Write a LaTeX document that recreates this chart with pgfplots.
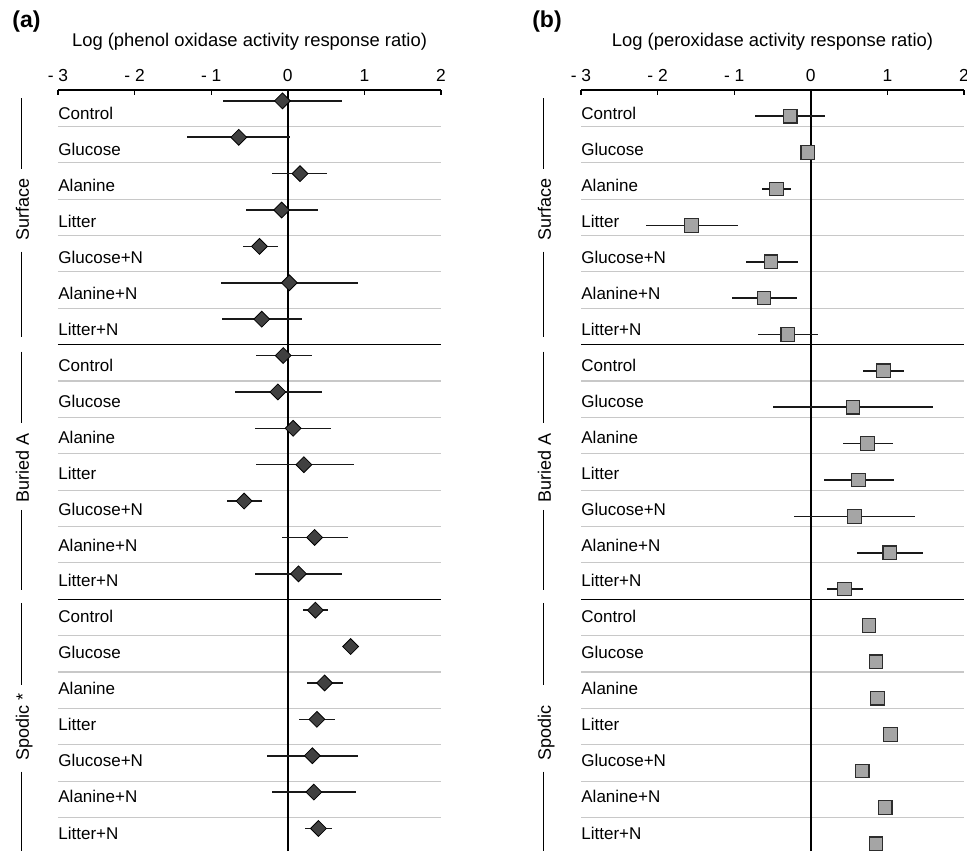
\documentclass[border=0pt]{standalone}
\usepackage{fontspec}
\setmainfont{Liberation Sans}
\usepackage{pgfplots}
\usepackage{pgfplotstable}
\pgfplotsset{compat=1.18}

\definecolor{sepgray}{RGB}{200,200,200}
\definecolor{diafill}{RGB}{64,64,64}
\definecolor{sqfill}{RGB}{165,165,165}
\definecolor{sqedge}{RGB}{45,45,45}

\pgfplotstableread{
y m lo hi
20.7 -0.07 -0.85 0.71
19.7 -0.64 -1.31 0.03
18.7 0.16 -0.21 0.51
17.7 -0.08 -0.54 0.39
16.7 -0.37 -0.59 -0.13
15.7 0.02 -0.87 0.91
14.7 -0.34 -0.86 0.18
13.7 -0.06 -0.41 0.31
12.7 -0.13 -0.69 0.44
11.7 0.07 -0.43 0.57
10.7 0.21 -0.42 0.86
9.7 -0.57 -0.79 -0.34
8.7 0.35 -0.08 0.79
7.7 0.14 -0.43 0.71
6.7 0.36 0.20 0.52
5.7 0.82 0.82 0.82
4.7 0.48 0.25 0.72
3.7 0.38 0.14 0.62
2.7 0.32 -0.27 0.91
1.7 0.34 -0.20 0.89
0.7 0.40 0.22 0.58
}\phenol

\pgfplotstableread{
y m lo hi
20.28 -0.27 -0.73 0.19
19.28 -0.04 -0.04 -0.04
18.28 -0.45 -0.64 -0.26
17.28 -1.56 -2.15 -0.95
16.28 -0.52 -0.85 -0.17
15.28 -0.61 -1.03 -0.18
14.28 -0.30 -0.69 0.10
13.28 0.95 0.68 1.22
12.28 0.55 -0.50 1.59
11.28 0.74 0.42 1.07
10.28 0.62 0.17 1.08
9.28 0.57 -0.22 1.36
8.28 1.03 0.60 1.46
7.28 0.44 0.21 0.68
6.28 0.76 0.76 0.76
5.28 0.85 0.85 0.85
4.28 0.87 0.87 0.87
3.28 1.04 1.04 1.04
2.28 0.67 0.67 0.67
1.28 0.97 0.97 0.97
0.28 0.85 0.85 0.85
}\perox

\tikzset{grp/.style={font=\fontsize{9}{10}\selectfont, rotate=90, text height=0.73em, text depth=0pt, inner sep=0pt}}

\pgfplotsset{
  forestax/.style={
    scale only axis, width=191.5pt, height=380.5pt,
    xmin=-3, xmax=2, ymin=0.08, ymax=21,
    enlargelimits=false,
    clip=false,
    axis x line*=top,
    axis y line*=left,
    y axis line style={draw=none},
    x axis line style={line width=0.65pt, black},
    xtick={-3,-2,-1,0,1,2},
    xticklabels={{- 3},{- 2},{- 1},0,1,2},
    xtick align=inside,
    major tick length=2.5pt,
    xtick style={line width=0.65pt, black},
    xticklabel style={font=\fontsize{8.7}{10}\selectfont, anchor=base, inner sep=0pt, yshift=4.2pt},
    ytick={0.41,1.40,2.39,3.38,4.37,5.36,6.35,7.34,8.32,9.31,10.30,11.29,12.28,13.27,14.26,15.25,16.24,17.23,18.22,19.21,20.20},
    yticklabels={Litter+N,Alanine+N,Glucose+N,Litter,Alanine,Glucose,Control,
                 Litter+N,Alanine+N,Glucose+N,Litter,Alanine,Glucose,Control,
                 Litter+N,Alanine+N,Glucose+N,Litter,Alanine,Glucose,Control},
    ytick style={draw=none},
    ytick align=inside,
    yticklabel style={anchor=base west, inner sep=0pt, font=\fontsize{8.5}{10}\selectfont},
    extra y ticks={1,2,3,4,5,6,8,9,10,11,12,13,15,16,17,18,19,20},
    extra y tick labels={},
    extra y tick style={grid=major, major grid style={sepgray, line width=0.55pt}, tick style={draw=none}},
  },
}

\begin{document}
\begin{tikzpicture}
% ---------------- panel (a) ----------------
\begin{axis}[forestax, at={(0,0)}, anchor=north west]
\addplot[black, line width=0.7pt, forget plot] coordinates {(0,0.08) (0,21)};
\addplot[black, line width=0.7pt, forget plot] coordinates {(-3,14) (2,14)};
\addplot[black, line width=0.7pt, forget plot] coordinates {(-3,7) (2,7)};
\addplot[only marks, mark=square*, mark size=2.8pt,
  mark options={rotate=45, fill=diafill, draw=black, line width=0.4pt},
  error bars/.cd, x dir=both, x explicit, error mark=none,
  error bar style={line width=0.8pt, black!90}]
  table[x=m, y=y, x error plus expr=\thisrow{hi}-\thisrow{m}, x error minus expr=\thisrow{m}-\thisrow{lo}] {\phenol};
% group brackets
\draw[line width=0.7pt] (axis cs:-3.475,20.77) -- (axis cs:-3.475,18.82);
\draw[line width=0.7pt] (axis cs:-3.475,16.56) -- (axis cs:-3.475,14.22);
\draw[line width=0.7pt] (axis cs:-3.475,13.81) -- (axis cs:-3.475,11.84);
\draw[line width=0.7pt] (axis cs:-3.475,9.46) -- (axis cs:-3.475,7.26);
\draw[line width=0.7pt] (axis cs:-3.475,6.90) -- (axis cs:-3.475,4.65);
\draw[line width=0.7pt] (axis cs:-3.475,2.26) -- (axis cs:-3.475,0.08);
\node[grp] at (axis cs:-3.475,17.72) {Surface};
\node[grp] at (axis cs:-3.475,10.60) {Buried A};
\node[grp] at (axis cs:-3.475,3.50) {Spodic *};
\node[anchor=base, font=\fontsize{9.2}{11}\selectfont, inner sep=0pt, yshift=21.7pt] at (rel axis cs:0.5,1) {Log (phenol oxidase activity response ratio)};
\node[font=\bfseries\fontsize{11.5}{13}\selectfont, inner sep=0pt, xshift=-15.75pt, yshift=34pt] at (rel axis cs:0,1) {(a)};
\end{axis}
% ---------------- panel (b) ----------------
\begin{axis}[forestax, at={(261.5pt,0)}, anchor=north west]
\addplot[black, line width=0.7pt, forget plot] coordinates {(0,0.08) (0,21)};
\addplot[black, line width=0.7pt, forget plot] coordinates {(-3,14) (2,14)};
\addplot[black, line width=0.7pt, forget plot] coordinates {(-3,7) (2,7)};
\addplot[only marks, mark=square*, mark size=3.4pt,
  mark options={fill=sqfill, draw=sqedge, line width=0.6pt},
  error bars/.cd, x dir=both, x explicit, error mark=none,
  error bar style={line width=0.8pt, black!90}]
  table[x=m, y=y, x error plus expr=\thisrow{hi}-\thisrow{m}, x error minus expr=\thisrow{m}-\thisrow{lo}] {\perox};
\draw[line width=0.7pt] (axis cs:-3.49,20.77) -- (axis cs:-3.49,18.82);
\draw[line width=0.7pt] (axis cs:-3.49,16.56) -- (axis cs:-3.49,14.22);
\draw[line width=0.7pt] (axis cs:-3.49,13.81) -- (axis cs:-3.49,11.84);
\draw[line width=0.7pt] (axis cs:-3.49,9.46) -- (axis cs:-3.49,7.26);
\draw[line width=0.7pt] (axis cs:-3.49,6.90) -- (axis cs:-3.49,4.65);
\draw[line width=0.7pt] (axis cs:-3.49,2.26) -- (axis cs:-3.49,0.08);
\node[grp] at (axis cs:-3.49,17.72) {Surface};
\node[grp] at (axis cs:-3.49,10.60) {Buried A};
\node[grp] at (axis cs:-3.49,3.33) {Spodic};
\node[anchor=base, font=\fontsize{9.2}{11}\selectfont, inner sep=0pt, yshift=21.7pt] at (rel axis cs:0.5,1) {Log (peroxidase activity response ratio)};
\node[font=\bfseries\fontsize{11.5}{13}\selectfont, inner sep=0pt, xshift=-17pt, yshift=34pt] at (rel axis cs:0,1) {(b)};
\end{axis}
\pgfresetboundingbox
\path (-29pt,-380.5pt) rectangle (454.5pt,45pt);
\end{tikzpicture}
\end{document}
